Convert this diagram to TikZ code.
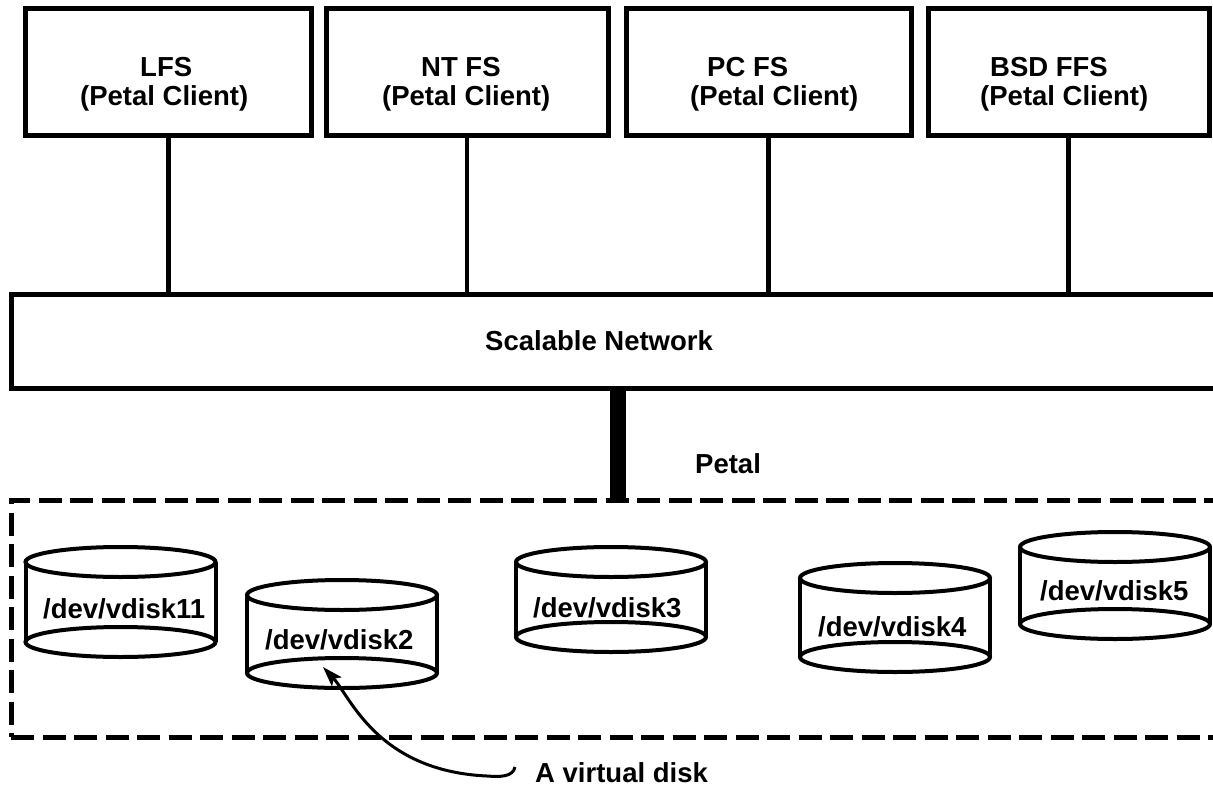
\documentclass[tikz,border=0pt]{standalone}
\usepackage{fontspec}
\setmainfont{Liberation Sans}
\usetikzlibrary{arrows.meta}
\tikzset{
  box/.style={draw, line width=5pt, inner sep=0pt},
  lbl/.style={inner sep=0pt, anchor=base west, font=\bfseries\fontsize{27.5}{33}\selectfont},
  wire/.style={line width=4.5pt},
  cyl/.style={line width=4pt},
  dashedbox/.style={draw, line width=5pt, dash pattern=on 23pt off 8.5pt, inner sep=0pt},
  pointer/.style={line width=3pt, -{Stealth[length=20pt,width=13pt,inset=4pt]}},
}
\newcommand\vdisk[7]{%
  \draw[cyl] (#2,#3) ellipse (95 and 15);
  \draw[cyl] (#2,#4) ellipse (95 and 15);
  \draw[cyl] (#2-95,#3) -- (#2-95,#4) (#2+95,#3) -- (#2+95,#4);
  \node[lbl] (#1) at (#5,#6) {#7};
}
\begin{document}
\begin{tikzpicture}[x=1pt,y=-1pt]
\clip (0,0) rectangle (1213,787);
\fill[white] (0,0) rectangle (1213,787);

% client boxes
\node[box, minimum width=285.5pt, minimum height=127pt] (lfs) at (168.25,71.5) {};
\node[box, minimum width=282pt, minimum height=127pt] (ntfs) at (467,71.5) {};
\node[box, minimum width=285pt, minimum height=127pt] (pcfs) at (768.5,71.5) {};
\node[box, minimum width=281pt, minimum height=127pt] (bsd) at (1068.5,71.5) {};

\node[lbl] (lfs1) at (140,76) {LFS};
\node[lbl] (lfs2) at (80,105) {(Petal Client)};
\node[lbl] (nt1) at (421,76) {NT FS};
\node[lbl] (nt2) at (382,105) {(Petal Client)};
\node[lbl] (pc1) at (707,76) {PC FS};
\node[lbl] (pc2) at (690,105) {(Petal Client)};
\node[lbl] (bsd1) at (990,76) {BSD FFS};
\node[lbl] (bsd2) at (980,105) {(Petal Client)};

% network
\node[box, minimum width=1214pt, minimum height=94pt] (net) at (618,341) {};
\node[lbl] (netl) at (485,350) {Scalable Network};

\foreach \c in {lfs,ntfs,pcfs,bsd}
  \draw[wire] (\c.south) -- (\c.south |- net.north);

% petal
\node[dashedbox, minimum width=1214pt, minimum height=237pt] (petal) at (618,618.5) {};
\draw[line width=16pt] (net.south) -- (petal.north);
\node[lbl] (petall) at (695,473) {Petal};

% virtual disks
\vdisk{d11}{120.5}{562}{642}{43}{618}{/dev/vdisk11}
\vdisk{d2}{342}{595}{673}{265}{649}{/dev/vdisk2}
\vdisk{d3}{611}{562}{637}{533}{617}{/dev/vdisk3}
\vdisk{d4}{895}{578}{657}{818}{636}{/dev/vdisk4}
\vdisk{d5}{1115}{547}{624}{1040}{600}{/dev/vdisk5}

% annotation
\node[lbl] (avd) at (535,782) {A virtual disk};
\coordinate (hook) at (515,767);
\coordinate (v2tip) at (323,667);
\draw[pointer] (hook) .. controls (513,777) and (500,777) .. (487,776)
  .. controls (377,771) and (350,696) .. (v2tip);
\end{tikzpicture}
\end{document}
